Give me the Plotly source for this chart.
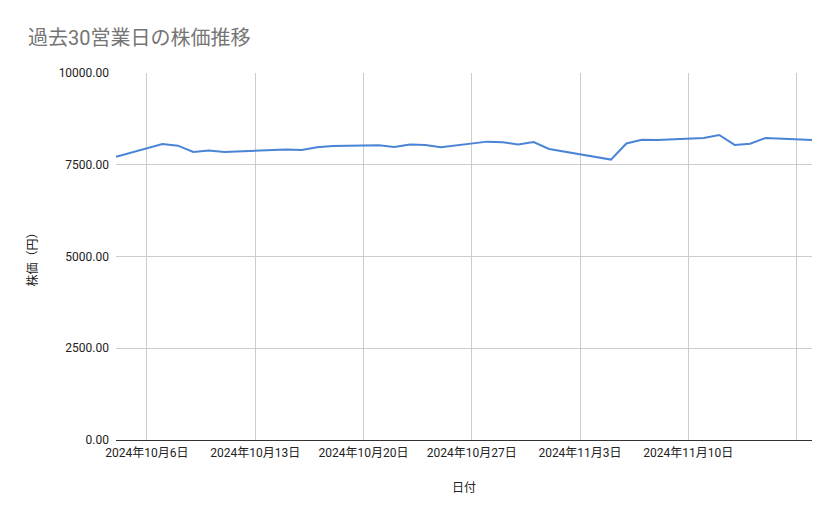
import plotly.graph_objects as go
import pandas as pd

dates = [
    "2024-10-04", "2024-10-07", "2024-10-08", "2024-10-09", "2024-10-10", "2024-10-11",
    "2024-10-15", "2024-10-16", "2024-10-17", "2024-10-18",
    "2024-10-21", "2024-10-22", "2024-10-23", "2024-10-24", "2024-10-25",
    "2024-10-28", "2024-10-29", "2024-10-30", "2024-10-31", "2024-11-01",
    "2024-11-05", "2024-11-06", "2024-11-07", "2024-11-08",
    "2024-11-11", "2024-11-12", "2024-11-13", "2024-11-14", "2024-11-15",
    "2024-11-18",
]
prices = [
    7720, 8065, 8020, 7850, 7885, 7850,
    7915, 7900, 7975, 8010,
    8030, 7985, 8050, 8040, 7975,
    8130, 8110, 8055, 8120, 7930,
    7640, 8080, 8180, 8175,
    8230, 8310, 8040, 8075, 8230,
    8175,
]

# labelled weekly ticks (the last gridline, Nov 17, has no label in the original)
label_ticks = list(pd.date_range("2024-10-06", "2024-11-10", freq="7D"))

title_text = "過去30営業日の株価推移"
x_title = "日付"
y_title = "株価（円）"

fig = go.Figure()
fig.add_trace(go.Scatter(
    x=dates, y=prices, mode="lines",
    line=dict(color="#4a84d6", width=2),
    showlegend=False,
))

font_family = "Roboto, 'Noto Sans CJK JP', sans-serif"

W, H = 823, 503
fig.update_layout(
    width=W, height=H,
    margin=dict(l=108, r=19, t=65, b=71),
    paper_bgcolor="white", plot_bgcolor="white",
    font=dict(family=font_family, size=12, color="#222222"),
    title=dict(text=title_text, x=20 / W, xanchor="left", y=1 - 30 / H, yanchor="middle",
               font=dict(size=20, color="#757575", family=font_family)),
    xaxis=dict(
        type="date",
        range=["2024-10-04", "2024-11-18"],
        tickmode="array", tickvals=label_ticks,
        tickformat="%Y年%-m月%-d日",
        showgrid=True, gridcolor="#cccccc", gridwidth=1,
        minor=dict(tick0="2024-10-06", dtick=7 * 86400000, showgrid=True,
                   gridcolor="#cccccc", gridwidth=1, ticks=""),
        showline=False, zeroline=False, ticks="",
        ticklabelstandoff=4,
        tickfont=dict(size=12, color="#222222"),
        title=dict(text=x_title, font=dict(size=12, color="#222222"), standoff=24),
    ),
    yaxis=dict(
        range=[0, 10000], dtick=2500, tickformat=".2f",
        showgrid=True, gridcolor="#cccccc", gridwidth=1,
        zeroline=True, zerolinecolor="#333333", zerolinewidth=1,
        showline=False, ticks="",
        ticklabelstandoff=6,
        tickfont=dict(size=12, color="#222222"),
        title=dict(text=y_title, font=dict(size=12, color="#222222"), standoff=18),
    ),
)

fig.write_html("out.html")
